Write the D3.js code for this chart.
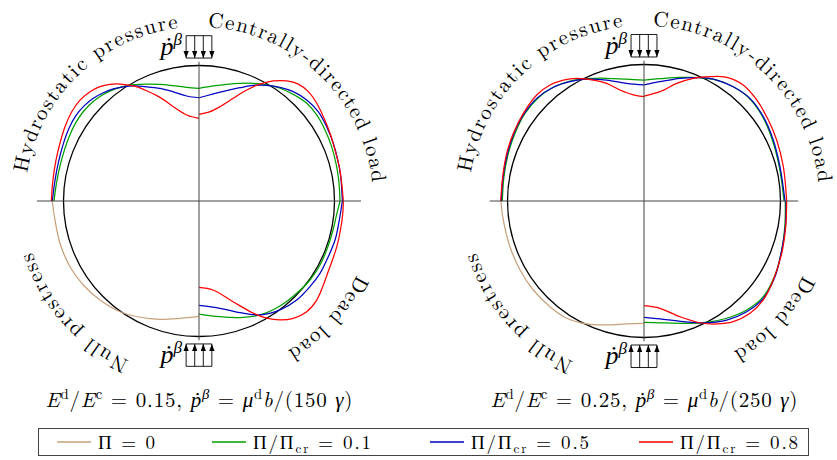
<!DOCTYPE html>
<html>
<head>
<meta charset="utf-8">
<script src="https://cdn.jsdelivr.net/npm/d3@7"></script>
<style>
  body { margin: 0; background: #fff; }
  svg { display: block; }
</style>
</head>
<body>
<svg id="chart"></svg>
<script>
const width = 837;
const height = 460;

// legend / series
const seriesKeys = ["pi0", "pi01", "pi05", "pi08"];
const seriesColors = ["#c9a27c", "#00a000", "#0000c0", "#ff0000"];
const piRatios = [0, 0.1, 0.5, 0.8];

// panel parameters (caption numbers)
const stiffRatios = ["0.15", "0.25"];
const loadDenoms = ["150", "250"];

// quadrant labels
const quadLabels = ["Hydrostatic pressure", "Centrally-directed load", "Null prestress", "Dead load"];

// deformed shapes, undeformed circle radius = 1 ([x, y])
// panel A : E^d/E^c = 0.15
const aHydro01 = [[0,0.832],[-0.091,0.839],[-0.190,0.851],[-0.288,0.861],[-0.386,0.863],[-0.485,0.858],[-0.570,0.842],[-0.650,0.815],[-0.725,0.775],[-0.795,0.722],[-0.858,0.655],[-0.912,0.573],[-0.957,0.478],[-0.995,0.370],[-1.028,0.250],[-1.053,0.125],[-1.070,0]];
const aHydro05 = [[0,0.762],[-0.091,0.775],[-0.190,0.806],[-0.288,0.831],[-0.386,0.843],[-0.485,0.849],[-0.559,0.843],[-0.633,0.827],[-0.706,0.799],[-0.780,0.758],[-0.850,0.700],[-0.910,0.628],[-0.960,0.535],[-1.002,0.420],[-1.036,0.292],[-1.063,0.150],[-1.082,0]];
const aHydro08 = [[0,0.610],[-0.091,0.635],[-0.190,0.696],[-0.288,0.765],[-0.386,0.814],[-0.485,0.849],[-0.583,0.863],[-0.657,0.861],[-0.731,0.844],[-0.804,0.807],[-0.878,0.745],[-0.939,0.659],[-0.989,0.548],[-1.026,0.426],[-1.055,0.303],[-1.078,0.155],[-1.090,0]];
const aCentral01 = [[0,0.832],[0.106,0.849],[0.204,0.861],[0.303,0.868],[0.401,0.868],[0.500,0.858],[0.598,0.832],[0.696,0.787],[0.795,0.721],[0.869,0.635],[0.930,0.524],[0.979,0.401],[1.011,0.278],[1.031,0.155],[1.041,0]];
const aCentral05 = [[0,0.762],[0.106,0.790],[0.204,0.814],[0.303,0.836],[0.401,0.854],[0.500,0.854],[0.598,0.839],[0.696,0.807],[0.795,0.745],[0.880,0.659],[0.942,0.548],[0.991,0.426],[1.024,0.303],[1.046,0.179],[1.058,0]];
const aCentral08 = [[0,0.640],[0.081,0.659],[0.155,0.696],[0.253,0.758],[0.352,0.819],[0.450,0.863],[0.548,0.886],[0.647,0.886],[0.733,0.863],[0.807,0.807],[0.869,0.721],[0.923,0.610],[0.967,0.500],[1.004,0.376],[1.035,0.253],[1.053,0.131],[1.065,0]];
const aNull0 = [[0,-0.852],[-0.140,-0.866],[-0.288,-0.873],[-0.435,-0.858],[-0.583,-0.817],[-0.731,-0.731],[-0.854,-0.620],[-0.952,-0.485],[-1.026,-0.312],[-1.063,-0.140],[-1.083,0]];
const aDead01 = [[0,-0.834],[0.155,-0.854],[0.303,-0.860],[0.450,-0.841],[0.598,-0.775],[0.721,-0.681],[0.819,-0.583],[0.893,-0.472],[0.942,-0.362],[0.989,-0.214],[1.015,-0.103],[1.041,0]];
const aDead05 = [[0,-0.770],[0.155,-0.792],[0.303,-0.824],[0.450,-0.841],[0.598,-0.804],[0.721,-0.731],[0.819,-0.632],[0.893,-0.534],[0.954,-0.411],[1.004,-0.288],[1.033,-0.155],[1.058,0]];
const aDead08 = [[0,-0.637],[0.103,-0.657],[0.251,-0.743],[0.399,-0.827],[0.494,-0.863],[0.598,-0.878],[0.696,-0.866],[0.795,-0.817],[0.869,-0.731],[0.915,-0.627],[0.955,-0.517],[0.990,-0.421],[1.020,-0.325],[1.044,-0.214],[1.060,-0.103],[1.065,0]];

// panel B : E^d/E^c = 0.25
const bHydro01 = [[0,0.886],[-0.127,0.892],[-0.273,0.899],[-0.420,0.896],[-0.542,0.879],[-0.664,0.833],[-0.774,0.757],[-0.872,0.642],[-0.945,0.496],[-0.994,0.349],[-1.026,0.178],[-1.038,0]];
const bHydro05 = [[0,0.850],[-0.127,0.862],[-0.273,0.886],[-0.420,0.892],[-0.542,0.874],[-0.664,0.833],[-0.786,0.752],[-0.884,0.630],[-0.957,0.484],[-1.006,0.325],[-1.035,0.154],[-1.045,0]];
const bHydro08 = [[0,0.764],[-0.078,0.777],[-0.176,0.813],[-0.273,0.862],[-0.371,0.886],[-0.493,0.899],[-0.591,0.886],[-0.689,0.850],[-0.786,0.777],[-0.884,0.642],[-0.957,0.496],[-1.006,0.349],[-1.035,0.178],[-1.050,0]];
const bCentral01 = [[0,0.886],[0.117,0.896],[0.264,0.906],[0.410,0.903],[0.533,0.886],[0.654,0.837],[0.764,0.760],[0.862,0.630],[0.936,0.459],[0.991,0.251],[1.026,0]];
const bCentral05 = [[0,0.850],[0.117,0.874],[0.264,0.899],[0.410,0.903],[0.533,0.886],[0.654,0.837],[0.776,0.752],[0.874,0.618],[0.947,0.447],[0.996,0.251],[1.033,0]];
const bCentral08 = [[0,0.769],[0.117,0.801],[0.240,0.862],[0.361,0.899],[0.484,0.911],[0.606,0.906],[0.727,0.850],[0.826,0.740],[0.911,0.593],[0.972,0.447],[1.021,0.251],[1.045,0]];
const bNull0 = [[0,-0.896],[-0.127,-0.901],[-0.273,-0.908],[-0.420,-0.901],[-0.566,-0.859],[-0.689,-0.774],[-0.811,-0.652],[-0.908,-0.505],[-0.982,-0.335],[-1.031,-0.139],[-1.048,0]];
const bDead01 = [[0,-0.889],[0.117,-0.892],[0.288,-0.896],[0.459,-0.889],[0.606,-0.859],[0.752,-0.799],[0.874,-0.701],[0.960,-0.542],[1.009,-0.359],[1.033,-0.163],[1.035,0]];
const bDead05 = [[0,-0.852],[0.117,-0.864],[0.288,-0.884],[0.459,-0.892],[0.606,-0.872],[0.752,-0.811],[0.874,-0.713],[0.960,-0.554],[1.009,-0.359],[1.038,-0.163],[1.040,0]];
const bDead08 = [[0,-0.767],[0.117,-0.786],[0.264,-0.848],[0.410,-0.892],[0.533,-0.901],[0.654,-0.884],[0.777,-0.823],[0.874,-0.725],[0.947,-0.579],[1.009,-0.383],[1.038,-0.188],[1.045,0]];

const panels = [
  { cx: 199, cy: 201, R: 135.5, axisExt: 1.196, ratio: stiffRatios[0], den: loadDenoms[0],
    curves: [[aNull0, 0], [aHydro01, 1], [aHydro05, 2], [aHydro08, 3], [aCentral01, 1], [aCentral05, 2], [aCentral08, 3], [aDead01, 1], [aDead05, 2], [aDead08, 3]] },
  { cx: 644, cy: 201, R: 136.5, axisExt: 1.13, ratio: stiffRatios[1], den: loadDenoms[1],
    curves: [[bNull0, 0], [bHydro01, 1], [bHydro05, 2], [bHydro08, 3], [bCentral01, 1], [bCentral05, 2], [bCentral08, 3], [bDead01, 1], [bDead05, 2], [bDead08, 3]] }
];

// where the curved labels sit (screen angle of middle, arc span in degrees)
const labelArcs = [
  { mid: -133.8, span: 73.8 },
  { mid: -46.6, span: 81 },
  { mid: 138.3, span: 49.2 },
  { mid: 42.2, span: 34.4 }
];

const LM = "Latin Modern Roman, Liberation Serif, serif";
const GR = "Liberation Serif, serif";

const svg = d3.select("#chart")
    .attr("width", width)
    .attr("height", height)
    .attr("font-family", LM);

// arrow head
svg.append("defs").append("marker")
    .attr("id", "head")
    .attr("viewBox", "0 0 8 6")
    .attr("refX", 8).attr("refY", 3)
    .attr("markerUnits", "userSpaceOnUse")
    .attr("markerWidth", 7).attr("markerHeight", 5.5)
    .attr("orient", "auto")
  .append("path")
    .attr("d", "M0,0 L8,3 L0,6 Z")
    .attr("fill", "#000");

// math-ish text: parts = [text, style, pos]
// style r = roman, i = italic, g = greek italic, G = greek upright
function mathText(sel, parts, size, supScale = 0.7) {
  let shift = 0;
  parts.forEach(([t, style, pos]) => {
    const ts = sel.append("tspan").text(t);
    const target = pos === "sup" ? -0.4 * size : pos === "sub" ? 0.24 * size : 0;
    if (target !== shift) { ts.attr("dy", target - shift); shift = target; }
    if (style === "i" || style === "g") ts.attr("font-style", "italic");
    if (style === "g" || style === "G") ts.attr("font-family", GR);
    if (pos) ts.attr("font-size", supScale * size);
  });
}

const line = d3.line().curve(d3.curveCatmullRom.alpha(0.5));
const labelSize = 21;

panels.forEach((p, pi) => {
  const x = d3.scaleLinear().domain([-1, 1]).range([p.cx - p.R, p.cx + p.R]);
  const y = d3.scaleLinear().domain([-1, 1]).range([p.cy + p.R, p.cy - p.R]);
  const g = svg.append("g");

  // undeformed circle
  g.append("circle")
    .attr("cx", x(0)).attr("cy", y(0))
    .attr("r", x(1) - x(0))
    .attr("fill", "none").attr("stroke", "#000").attr("stroke-width", 1.3);

  // deformed shapes
  line.x(d => x(d[0])).y(d => y(d[1]));
  g.selectAll("path.shape")
    .data(p.curves)
    .join("path")
      .attr("class", "shape")
      .attr("d", d => line(d[0]))
      .attr("fill", "none")
      .attr("stroke", d => seriesColors[d[1]])
      .attr("stroke-width", 1.25);

  // axes
  g.append("line")
    .attr("x1", x(-p.axisExt)).attr("x2", x(p.axisExt))
    .attr("y1", y(0)).attr("y2", y(0))
    .attr("stroke", "#444").attr("stroke-width", 1);
  g.append("line")
    .attr("x1", x(0)).attr("x2", x(0))
    .attr("y1", y(1.028)).attr("y2", y(-1.028))
    .attr("stroke", "#444").attr("stroke-width", 1);

  // load boxes with arrows, top (down) and bottom (up)
  const bw = 0.095;
  [[1.22, 1.055], [-1.22, -1.055]].forEach(([v0, v1]) => {
    [v0, v1].forEach(v => {
      g.append("line").attr("x1", x(-bw)).attr("x2", x(bw)).attr("y1", y(v)).attr("y2", y(v))
        .attr("stroke", "#000").attr("stroke-width", 0.9);
    });
    d3.range(4).forEach(i => {
      const u = -bw + i * (2 * bw / 3);
      g.append("line")
        .attr("x1", x(u)).attr("x2", x(u))
        .attr("y1", y(v0)).attr("y2", y(v1))
        .attr("stroke", "#000").attr("stroke-width", 0.9)
        .attr("marker-end", "url(#head)");
    });
  });

  // p-dot labels
  [1.075, -1.195].forEach(v => {
    const t = g.append("text")
      .attr("x", x(-0.125)).attr("y", y(v))
      .attr("text-anchor", "end")
      .attr("font-size", 26);
    mathText(t, [["ṗ", "g"], ["β", "g", "sup"]], 26, 0.66);
  });

  // curved quadrant labels
  const rText = 1.285 * p.R;
  quadLabels.forEach((txt, li) => {
    const la = labelArcs[li];
    const a0 = (la.mid - 90) * Math.PI / 180;
    const a1 = (la.mid + 90) * Math.PI / 180;
    const path = d3.path();
    path.arc(p.cx, p.cy, rText, a0, a1, false);
    const id = `arc${pi}_${li}`;
    svg.select("defs").append("path").attr("id", id).attr("d", path.toString());

    // natural length to find letter spacing
    const tmp = svg.append("text").attr("font-size", labelSize).text(txt);
    const natural = tmp.node().getComputedTextLength();
    tmp.remove();
    const target = la.span * Math.PI / 180 * rText;
    const ls = (target - natural) / (txt.length - 1);

    g.append("text")
      .attr("font-size", labelSize)
      .attr("letter-spacing", ls)
      .attr("dx", ls / 2)
      .append("textPath")
        .attr("href", "#" + id)
        .attr("startOffset", "50%")
        .attr("text-anchor", "middle")
        .text(txt);
  });

  // caption
  const cap = g.append("text")
    .attr("x", x(0)).attr("y", 407)
    .attr("text-anchor", "middle")
    .attr("font-size", 21);
  mathText(cap, [["E", "i"], ["d", "r", "sup"], ["/", "r"], ["E", "i"], ["c", "r", "sup"], [` = ${p.ratio}, `, "r"],
    ["ṗ", "g"], ["β", "g", "sup"], [" = ", "r"], ["μ", "g"], ["d", "r", "sup"], ["b", "i"], [`/(${p.den} `, "r"], ["γ", "g"], [")", "r"]], 21);
  cap.attr("textLength", 307).attr("lengthAdjust", "spacing");
});

// legend
const legend = svg.append("g");
legend.append("rect")
  .attr("x", 38.5).attr("y", 428.5)
  .attr("width", 770).attr("height", 27)
  .attr("fill", "#fff").attr("stroke", "#444").attr("stroke-width", 1);

const legendX = [57, 212, 430, 639];
const legendW = [57, 118, 118, 118];
seriesKeys.forEach((k, i) => {
  const lg = legend.append("g").attr("transform", `translate(${legendX[i]},442)`);
  lg.append("line").attr("x1", 0).attr("x2", 34).attr("y1", 0).attr("y2", 0)
    .attr("stroke", seriesColors[i]).attr("stroke-width", 1.3);
  const t = lg.append("text").attr("x", 41).attr("y", 6.5).attr("font-size", 19);
  if (piRatios[i] === 0) {
    mathText(t, [["Π", "G"], [" = 0", "r"]], 19);
  } else {
    mathText(t, [["Π", "G"], ["/", "r"], ["Π", "G"], ["cr", "r", "sub"], [` = ${piRatios[i]}`, "r"]], 19);
  }
  t.attr("textLength", legendW[i]).attr("lengthAdjust", "spacing");
});
</script>
</body>
</html>
